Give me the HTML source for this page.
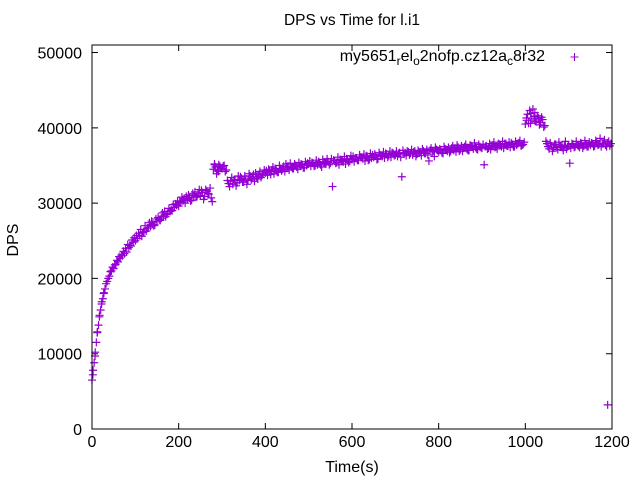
<!DOCTYPE html>
<html><head><meta charset="utf-8"><style>
body{margin:0;background:#fff}
svg{display:block;font-family:"Liberation Sans",sans-serif}
</style></head><body>
<svg id="chart" width="640" height="480" viewBox="0 0 640 480">
<rect width="640" height="480" fill="#fff"/>
<text x="352" y="25" font-size="15.5" text-anchor="middle">DPS vs Time for l.i1</text>
<text transform="translate(18,240) rotate(-90)" font-size="16" text-anchor="middle">DPS</text>
<text x="352" y="472" font-size="16" text-anchor="middle">Time(s)</text>
<g id="axes"></g>
<g id="points"></g>
<rect x="92" y="45" width="520" height="384" fill="none" stroke="#000" stroke-width="1"/>
<text x="545" y="61" font-size="16" text-anchor="end">my5651<tspan font-size="12" dy="4">r</tspan><tspan dy="-4">el</tspan><tspan font-size="12" dy="4">o</tspan><tspan dy="-4">2nofp.cz12a</tspan><tspan font-size="12" dy="4">c</tspan><tspan dy="-4">8r32</tspan></text>
<path d="M570.5 57h8M574.5 53v8" stroke="#9400d3" stroke-width="1"/>
</svg>
<script>
const xTicks=[0,200,400,600,800,1000,1200];
const yTicks=[0,10000,20000,30000,40000,50000];
const step=5;
const dps=[6500,8800,11500,13800,15800,17300,18600,19600,20300,21000,
21300,21900,22200,22700,23000,23300,23500,24100,24300,24800,
25000,25300,25700,25600,26200,26300,26700,26900,27200,27100,
27600,27800,28000,28300,28200,28600,28900,29000,29400,29700,
29600,30100,30300,30000,30500,30700,30400,31000,30800,31200,
31000,31400,30900,31600,31200,30700,34500,34800,34300,34900,
34600,35000,34400,32600,32900,32500,33100,32700,33000,33300,
32800,33200,33000,33600,33300,32900,33500,33800,33400,33900,
34000,33700,34200,34400,33900,34300,34100,34600,34500,34200,
34700,34400,34800,34600,35000,34500,34900,35100,34700,35000,
35200,34900,35300,35000,35100,35400,34800,35300,35200,35500,
35300,32200,35600,35400,35100,35700,35500,35200,35800,35600,
35800,35500,36000,35700,36100,35900,35600,36200,35800,36000,
36100,36300,35900,36400,36200,36000,36500,36300,36100,36600,
36400,36200,36700,33500,36500,36300,36800,36600,36400,36900,
36500,36700,36300,36900,36600,36400,37000,36800,36200,37100,
36800,37000,36600,37200,36900,36700,37300,37000,36800,37400,
37100,36900,37500,37200,37000,37600,37200,37400,37100,37500,
37300,35100,37600,37300,37100,37700,37400,37200,37800,37500,
37300,37900,37600,37400,37800,37500,37700,38000,37600,37800,
40500,41800,42300,41200,41500,40800,41300,40700,41100,40300,
37900,37200,37600,37300,37800,37100,37500,37400,37700,37200,
37600,37300,37800,37500,37700,37400,37900,37600,37800,37500,
37700,37900,37600,38100,37800,37500,37900,37700,38000,37600];
const dps2=[7800,10200,12900,15100,16900,18100,19300,20000,20900,21500,
21800,22400,22900,23100,23600,24000,24500,24400,25100,25400,
25700,26000,26500,26100,27000,26700,27400,27600,27000,27900,
28100,27700,28700,28900,28500,29300,29100,29800,29900,30300,
30200,30800,30600,30900,31100,30300,31300,31500,30900,31800,
31700,30500,31800,31300,32000,30200,35200,33900,35100,34700,
34900,34200,33000,32200,33400,33100,32300,33600,33500,32800,
33600,32500,33900,33100,33800,34000,33200,34200,33700,34400,
34300,34500,33800,34800,34600,34100,35000,34300,34900,35200,
34900,35300,34600,35200,34800,35400,35200,34700,35500,35300,
35600,35400,34900,35700,35500,35100,35800,35400,35900,35100,
35900,35700,35300,36100,35800,35600,36200,35900,35400,36300,
36200,36000,35700,36400,36100,36500,36300,35700,36600,36400,
36500,35800,36700,36300,36800,36600,36100,36900,36700,36300,
36900,36600,36100,37000,36700,36900,36400,37100,36800,36200,
37000,36800,37200,36600,37100,35600,37300,36900,37400,37000,
37200,36700,37500,37100,37400,36900,37600,37300,37700,36900,
37600,37300,37800,37000,37700,37500,38000,37200,37800,37400,
37800,37500,37200,37900,37600,38100,37500,37900,37700,38200,
37900,37600,38100,38000,37500,38200,37900,38300,37700,38100,
41300,40600,41900,42500,40900,41600,40400,41400,40100,38200,
37500,38000,36900,37800,37400,38100,37600,37000,38200,37500,
35300,37900,37400,38200,37600,38000,37300,38300,37500,38100,
38000,37500,38300,37700,38600,37900,38400,37500,38200,37900];
const extraTimes=[2,7,12,17,22,27,283,292,1003,1012,1022,1032,1190];
const extraDps=[7200,9700,12800,14900,16600,18000,35100,34200,41000,40600,42000,40900,3200];
const NS="http://www.w3.org/2000/svg";
const X=t=>92+t*520/1200, Y=v=>429-v*384/51000;
const ax=document.getElementById('axes'), pg=document.getElementById('points');
xTicks.forEach(t=>{
 const p=document.createElementNS(NS,'path');
 p.setAttribute('d',`M${X(t)} 429v-6M${X(t)} 45v6`);p.setAttribute('stroke','#000');
 
 
 ax.appendChild(p);
 const l=document.createElementNS(NS,'text');
 l.setAttribute('x',X(t));l.setAttribute('y',447);l.setAttribute('font-size','16');l.setAttribute('text-anchor','middle');
 l.textContent=t;
 
 
 ax.appendChild(l);
});
yTicks.forEach(v=>{
 const p=document.createElementNS(NS,'path');
 p.setAttribute('d',`M92 ${Y(v)}h6M612 ${Y(v)}h-6`);p.setAttribute('stroke','#000');
 
 
 ax.appendChild(p);
 const l=document.createElementNS(NS,'text');
 l.setAttribute('x',82);l.setAttribute('y',Y(v)+6);l.setAttribute('font-size','16');l.setAttribute('text-anchor','end');
 l.textContent=v;
 
 
 ax.appendChild(l);
});
function mark(t,v){
 const p=document.createElementNS(NS,'path');
 const x=X(t),y=Y(v);
 p.setAttribute('d',`M${x-4} ${y}h8M${x} ${y-4}v8`);
 p.setAttribute('stroke','#9400d3');p.setAttribute('stroke-width','1.2');
 
 
 pg.appendChild(p);
}
dps.forEach((v,i)=>mark(i*step,v));
dps2.forEach((v,i)=>mark(i*step+step/2,v));
extraTimes.forEach((t,i)=>mark(t,extraDps[i]));
</script>
</body></html>
